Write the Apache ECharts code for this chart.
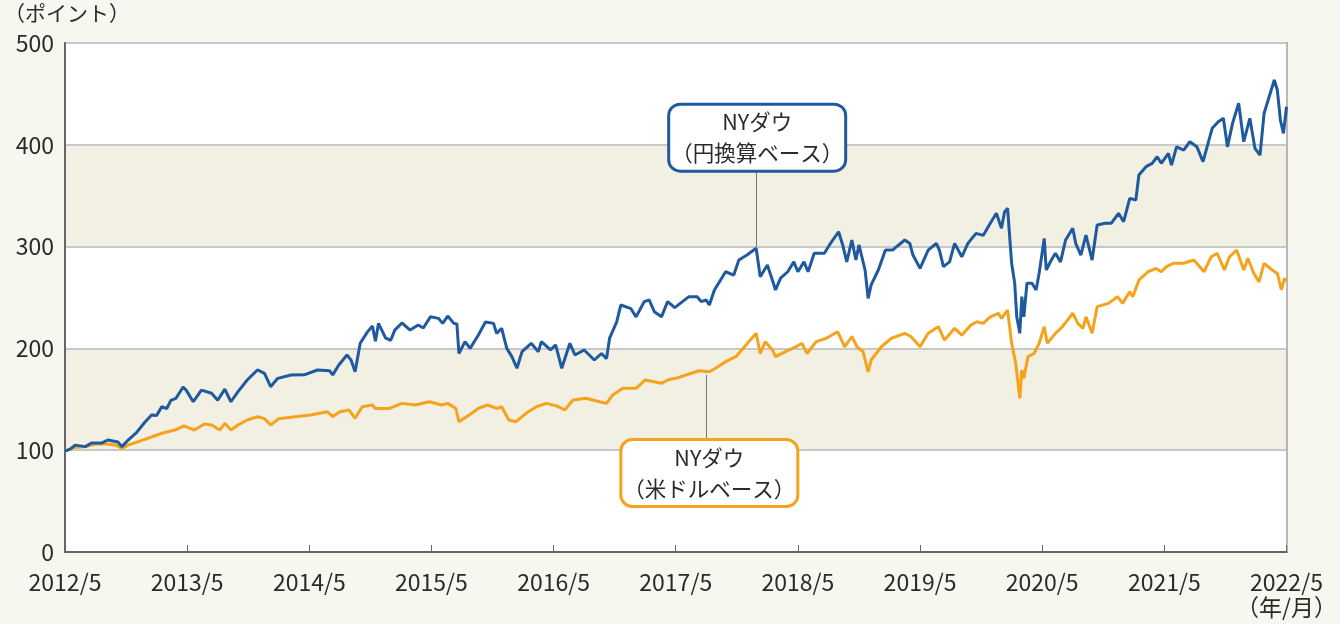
<!DOCTYPE html>
<html><head><meta charset="utf-8">
<script src="https://cdn.jsdelivr.net/npm/echarts@6/dist/echarts.min.js"></script>
<style>html,body{margin:0;padding:0;background:#f8f7ef;}#c{width:1340px;height:624px;}</style>
</head><body><div id="c"></div>
<script>
// x positions: months since 2012/5
const xTickLabels = ['2012/5','2013/5','2014/5','2015/5','2016/5','2017/5','2018/5','2019/5','2020/5','2021/5','2022/5'];
const yUnit = '（ポイント）';
const xUnit = '（年/月）';
const jpyName = 'NYダウ\n（円換算ベース）';
const usdName = 'NYダウ\n（米ドルベース）';

const jpyMonths = [0,0.5,1,2,2.6,3.6,4.2,5.2,5.6,6.2,7,7.8,8.5,9,9.5,10,10.4,10.9,11.6,11.9,12.6,13.4,14.4,15,15.7,16.3,17,17.9,18.9,19.6,20.2,20.9,22.2,23.5,24.8,26,26.3,26.9,27.7,28.1,28.5,29,29.7,30.2,30.5,30.8,31.5,32,32.4,33.1,33.9,34.7,35.2,35.9,36.7,37.1,37.6,38.2,38.5,38.7,39.3,39.8,40.6,41.3,42.1,42.4,42.9,43.4,43.9,44.4,44.9,45.8,46.5,46.8,47.7,48.2,48.8,49.6,50.1,51,52,52.7,53.2,53.5,54.2,54.6,55.6,56.1,56.9,57.4,57.9,58.6,59.2,59.9,61.3,62.1,62.5,63,63.3,63.8,64.9,65.7,66.2,67,67.9,68.3,69,69.5,69.8,70.3,71,71.6,72,72.6,73,73.6,74.6,75.1,76,76.4,76.8,77.3,77.7,78,78.6,78.9,79.2,79.9,80.6,81.3,81.9,82.5,83,83.3,84,84.8,85.6,85.9,86.3,86.9,87.4,88.1,88.7,89.5,90.2,90.9,91.5,92,92.3,92.6,93,93.3,93.5,93.8,94,94.2,94.5,95,95.4,95.7,96.2,96.4,96.9,97.3,97.8,98.3,99,99.3,99.8,100.3,100.9,101.4,102.2,102.8,103.5,104,104.6,105.2,105.5,106.2,106.8,107.3,107.7,108.4,108.7,109.2,109.9,110.5,111.2,111.8,112.2,112.7,113.3,113.8,114.2,114.7,115.3,115.8,116.4,116.9,117.4,117.8,118.2,118.8,119.1,119.4,119.7,120];
const jpyValues = [99,101,105,103.5,107,107,110,108,103.5,110,117,127,134.6,134,142.7,141,149,151,162,159,147.6,159,156,149,160,147.6,157.5,169,178.8,175.5,162.4,170.6,173.9,174,178.8,178,174,183.7,193.5,188.6,177,205,216,222,207,224.6,210,208,218,225,218,223,220,231,229.5,224.6,231.8,224.6,224,195,206.6,200,213,226,224.6,214.8,219.7,200,191.9,180.5,196.8,205,196.8,206.6,198.5,203.4,180.5,205,193.5,198.4,188.6,195,190,210,226,242.6,239,231,245.9,247.5,236,231,246,240,250.8,250.8,246,247.5,242.6,257.4,275.3,272,286.8,291.7,298.3,270.4,282,267,257.4,269,275.3,285,275.3,285,275.3,293.4,293.4,301.6,314.6,301.6,285,306.5,286.8,301.6,277,249.2,262.4,277,296.6,296.6,301.6,306.5,303,291.7,278.7,296.6,303.2,296.6,280.3,285,303.2,290,303.2,313,311,322.9,332.7,318,334,337.6,283.6,264,231,214.8,250.8,231,264,264,257.4,273.8,308,277,286.8,293.4,285,306.5,318,303,291.7,311.4,286.8,321.2,322.9,323,332.7,324.5,347.4,345.8,370.3,378.5,381.8,388.3,381.8,391.6,380,398,394.8,403,398,383.4,398,416.2,422.7,426,398,421,440.8,403,426,396.5,390,431,444,463.6,453.8,424.4,411.3,437.4];

const usdMonths = [0,0.5,1,2,3,4,5,5.6,6.2,7.2,8.5,9.5,10.8,11.7,12.7,13.7,14.4,15.2,15.7,16.3,17,17.9,18.9,19.6,20.2,21,22.8,24.1,25.8,26.3,27,27.9,28.5,29.2,30.2,30.5,31.9,33.1,34.4,35.8,37,37.6,38.4,38.7,39.7,40.6,41.5,42.4,42.9,43.6,44.3,45.3,46.3,47.3,48.3,49.1,49.9,51.2,52.5,53.2,53.8,54.8,56.1,57,58,58.6,59.2,60,61,62.3,63.3,63.9,64.9,65.9,66.6,67.9,68.3,68.8,69.5,69.8,70.8,71.8,72.4,72.9,73.8,74.8,75.9,76.2,76.6,77.3,77.8,78.4,78.9,79.2,80.2,81.2,82.5,83.1,84,84.8,85.8,86.4,87.4,88.1,89,89.6,90.2,90.9,91.7,92,92.6,93,93.4,93.8,94,94.2,94.6,95.2,95.7,96.2,96.5,97.3,98,99,99.5,100,100.3,100.9,101.4,102.5,103.4,103.9,104.6,104.9,105.5,106.4,107.2,107.7,108.2,108.9,109.9,110.9,111.9,112.6,113.2,113.9,114.4,115.1,115.8,116.2,116.8,117.3,117.8,118.6,119.1,119.5,119.8,120];
const usdValues = [99,101,103,103.5,106,106,105,101.8,105,108.4,113,116.6,119.8,123.8,119.8,125.7,124.7,119.8,126.4,119.8,124.7,129.7,132.9,131,124.7,131,133,134.6,137.8,133,137.8,139.5,131.3,142.7,144.4,141,141,146,144.4,147.6,144.4,146,141,128,134.6,141,144.4,141,142.7,129.7,128,136.2,142.7,146,143.5,139.5,149.3,151,147.6,146,154.2,160.8,160.8,169,167,165.7,169,170.6,173.9,178,177,180.5,187,191.9,200,214.8,195,206.6,198.4,191.9,196.8,201.6,205,195,206.6,210,216.4,210,201.6,211.7,201.6,196.8,177,188.6,201.6,210,214.8,211.7,201.6,214.8,221.3,208.2,219.7,213,223,226.2,224.6,231,234.5,229.5,237.7,205,185.3,151,178.8,170.6,191.9,195,205,221.3,205,214.8,221.3,234.5,224.6,219.7,231,214.8,241,244.2,250.8,244.2,255.7,250.8,267,275.3,278.6,275.3,280.3,283.6,283.6,286.8,275.3,290,293.4,277,290,296.6,277,288.5,273.6,265.3,283.6,277,273.6,257.4,268.8,266];

const jpyColor = '#1f5a9f';
const usdColor = '#f5a31c';
const FONT = '"Noto Sans CJK JP", "Noto Sans", sans-serif';

const chart = echarts.init(document.getElementById('c'));
const zip = (xs, ys) => xs.map((x, i) => [x, ys[i]]);

chart.setOption({
  backgroundColor: '#f8f7ef',
  animation: false,
  textStyle: { fontFamily: FONT },
  grid: { left: 65, right: 49, top: 43, bottom: 72, show: true, borderColor: '#777', borderWidth: 2, backgroundColor: '#fff', containLabel: false },
  xAxis: {
    type: 'value', min: 0, max: 120, interval: 12,
    axisLine: { show: true, lineStyle: { color: '#666', width: 2 } },
    axisTick: { show: true, inside: true, length: 7, lineStyle: { color: '#666', width: 1 } },
    splitLine: { show: false },
    axisLabel: {
      margin: 18, fontSize: 23, color: '#2a2a2a', fontFamily: FONT, lineHeight: 25,
      formatter: (v) => {
        const s = xTickLabels[Math.round(v / 12)] || '';
        return v === 120 ? s + '\n' + xUnit : s;
      }
    }
  },
  yAxis: {
    type: 'value', min: 0, max: 500, interval: 100,
    axisLine: { show: true, lineStyle: { color: '#666', width: 2 } },
    axisTick: { show: false },
    splitLine: { show: true, lineStyle: { color: '#c8c8c8', width: 2 } },
    splitArea: { show: true, areaStyle: { color: ['#ffffff', '#f2efe3'] } },
    axisLabel: { margin: 11, fontSize: 23, color: '#2a2a2a', fontFamily: FONT }
  },
  graphic: [{
    type: 'text', left: 4, top: 3,
    style: { text: yUnit, fontSize: 21, fill: '#2a2a2a', fontFamily: FONT }
  }],
  series: [
    {
      name: 'usd', type: 'line', data: zip(usdMonths, usdValues), showSymbol: false, z: 3,
      lineStyle: { color: usdColor, width: 3 }, itemStyle: { color: usdColor },
      markLine: {
        silent: true, symbol: ['none', 'none'], label: { show: false },
        lineStyle: { color: '#777', width: 1, type: 'solid' },
        data: [[{ coord: [63.0, 174] }, { coord: [63.0, 111] }]]
      },
      markPoint: {
        silent: true, symbol: 'rect', symbolSize: 1, itemStyle: { color: 'rgba(0,0,0,0)' },
        label: {
          show: true, position: 'inside', formatter: usdName, fontSize: 21.5, lineHeight: 31, color: '#2a2a2a',
          fontFamily: FONT, backgroundColor: '#fff', borderColor: usdColor, borderWidth: 3, borderRadius: 10,
          padding: [1, 1], align: 'center'
        },
        data: [{ coord: [63.3, 77.6] }]
      }
    },
    {
      name: 'jpy', type: 'line', data: zip(jpyMonths, jpyValues), showSymbol: false, z: 4,
      lineStyle: { color: jpyColor, width: 3 }, itemStyle: { color: jpyColor },
      markLine: {
        silent: true, symbol: ['none', 'none'], label: { show: false },
        lineStyle: { color: '#777', width: 1, type: 'solid' },
        data: [[{ coord: [67.9, 373] }, { coord: [67.9, 300] }]]
      },
      markPoint: {
        silent: true, symbol: 'rect', symbolSize: 1, itemStyle: { color: 'rgba(0,0,0,0)' },
        label: {
          show: true, position: 'inside', formatter: jpyName, fontSize: 21.5, lineHeight: 31, color: '#2a2a2a',
          fontFamily: FONT, backgroundColor: '#fff', borderColor: jpyColor, borderWidth: 3, borderRadius: 10,
          padding: [1, 1], align: 'center'
        },
        data: [{ coord: [68.0, 407] }]
      }
    }
  ]
});
</script></body></html>
